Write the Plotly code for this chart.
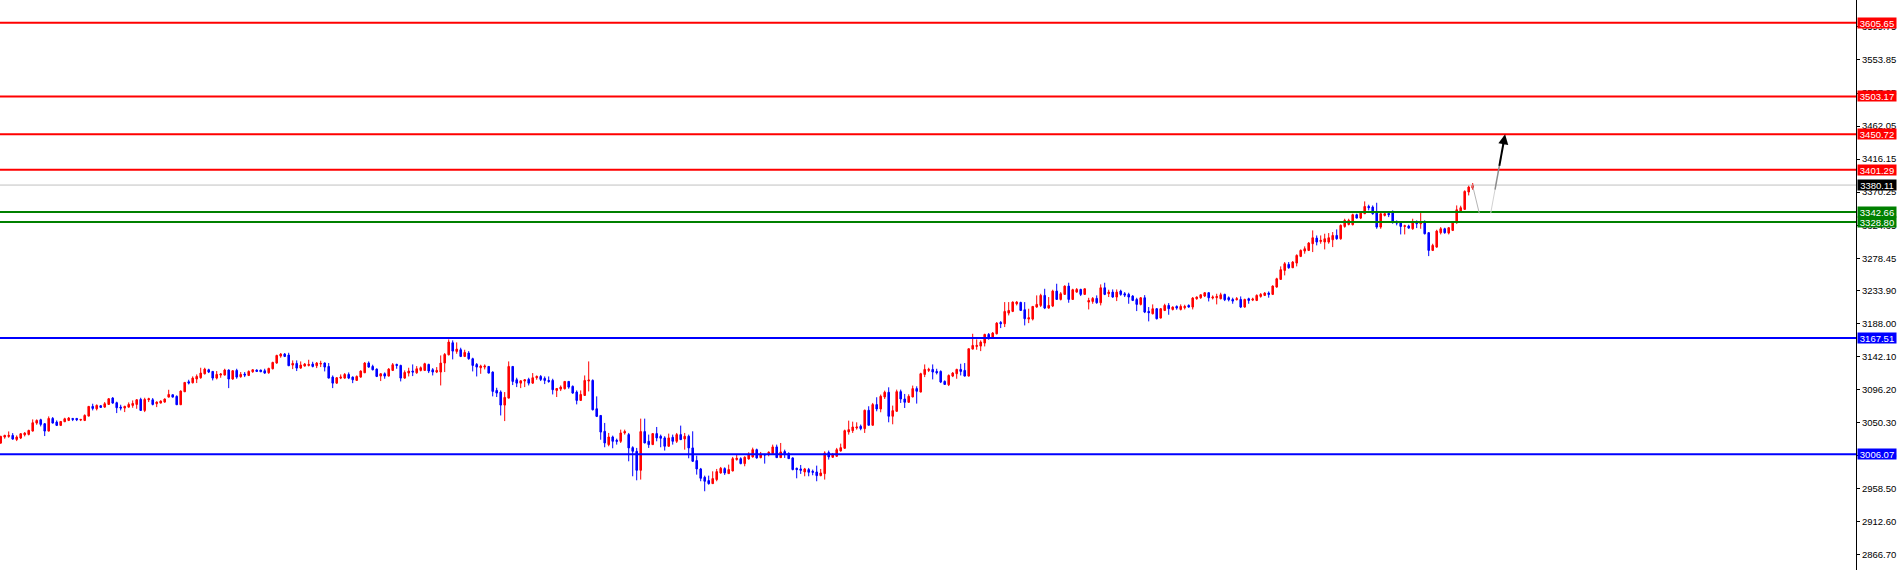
import plotly.graph_objects as go

# ---------------- data ----------------
opens = [
    3021.6, 3030.0, 3030.9, 3032.3, 3026.7, 3028.6, 3033.2, 3033.7, 3038.3, 3049.4,
    3054.0, 3048.5, 3038.3, 3055.9, 3050.8, 3046.2, 3051.3, 3053.1, 3055.9, 3055.9,
    3053.6, 3053.1, 3059.1, 3072.6, 3069.3, 3073.5, 3071.6, 3075.3, 3084.2, 3077.7,
    3071.6, 3070.3, 3071.6, 3074.0, 3075.3, 3082.3, 3067.0, 3081.8, 3081.8, 3076.3,
    3077.2, 3078.6, 3085.5, 3088.8, 3086.5, 3074.9, 3092.9, 3106.8, 3105.4, 3110.6,
    3112.4, 3117.9, 3123.5, 3121.2, 3111.9, 3116.1, 3116.1, 3123.1, 3110.6, 3122.6,
    3113.8, 3117.5, 3115.6, 3120.7, 3123.1, 3123.1, 3122.1, 3119.3, 3124.9, 3132.8,
    3142.5, 3145.3, 3143.9, 3130.0, 3132.3, 3125.8, 3128.6, 3129.5, 3131.4, 3129.1,
    3131.4, 3132.8, 3128.1, 3113.3, 3104.9, 3111.9, 3111.9, 3117.0, 3113.3, 3108.7,
    3113.3, 3119.3, 3132.8, 3128.1, 3124.4, 3114.7, 3117.9, 3114.7, 3122.6, 3130.9,
    3129.5, 3111.9, 3118.9, 3121.7, 3119.3, 3122.6, 3122.6, 3130.9, 3123.5, 3120.3,
    3120.3, 3132.8, 3144.3, 3161.0, 3149.0, 3151.3, 3142.0, 3146.7, 3138.8, 3130.9,
    3126.3, 3127.2, 3128.1, 3120.3, 3094.8, 3092.5, 3074.4, 3084.1, 3128.1, 3109.6,
    3104.9, 3107.8, 3110.1, 3104.9, 3112.4, 3114.2, 3111.5, 3108.7, 3108.7, 3094.8,
    3096.6, 3097.1, 3107.3, 3100.4, 3092.5, 3080.9, 3087.8, 3107.8, 3108.7, 3069.3,
    3060.0, 3038.0, 3019.5, 3030.1, 3025.5, 3024.1, 3035.7, 3033.4, 3015.3, 3010.2,
    2983.8, 3037.6, 3024.1, 3019.5, 3034.8, 3031.1, 3028.8, 3017.2, 3029.7, 3024.1,
    3033.4, 3027.4, 3031.1, 3014.9, 2997.3, 2985.7, 2974.1, 2969.5, 2965.3, 2970.9,
    2980.1, 2986.2, 2979.2, 2982.9, 2998.7, 3000.0, 2993.1, 2999.6, 3002.4, 3012.5,
    3001.4, 3006.1, 3007.0, 3007.0, 3016.3, 3001.4, 3009.8, 3007.0, 3001.0, 2986.6,
    2985.7, 2981.5, 2984.8, 2982.4, 2981.5, 2976.4, 2979.2, 3008.4, 3001.9, 3003.3,
    3010.7, 3014.4, 3037.1, 3038.9, 3042.6, 3045.0, 3041.7, 3067.2, 3046.4, 3075.1,
    3069.0, 3085.7, 3092.2, 3058.9, 3065.8, 3093.1, 3082.9, 3078.3, 3085.7, 3097.3,
    3092.5, 3117.0, 3122.6, 3124.0, 3121.2, 3121.2, 3107.3, 3102.7, 3114.7, 3118.0,
    3124.0, 3122.6, 3114.7, 3152.2, 3155.9, 3156.4, 3160.6, 3172.6, 3168.0, 3173.5,
    3189.3, 3187.4, 3202.2, 3204.6, 3215.2, 3217.0, 3206.9, 3193.9, 3193.9, 3210.6,
    3212.9, 3226.8, 3209.2, 3212.0, 3232.8, 3221.2, 3228.2, 3239.7, 3221.2, 3231.4,
    3235.1, 3228.2, 3217.5, 3218.4, 3222.6, 3216.6, 3237.4, 3229.1, 3231.4, 3224.5,
    3232.8, 3229.1, 3228.2, 3225.8, 3221.2, 3214.3, 3223.5, 3204.6, 3201.3, 3208.3,
    3195.3, 3205.9, 3212.9, 3207.3, 3211.5, 3207.3, 3209.7, 3212.9, 3210.6, 3222.1,
    3223.5, 3225.9, 3230.5, 3223.1, 3223.6, 3222.2, 3228.2, 3223.6, 3221.2, 3220.8,
    3221.2, 3210.6, 3222.2, 3220.3, 3219.8, 3225.4, 3226.8, 3230.0, 3228.2, 3238.4,
    3249.0, 3261.5, 3269.9, 3265.2, 3271.7, 3281.0, 3288.4, 3289.3, 3298.6, 3306.4,
    3301.8, 3300.9, 3300.9, 3304.1, 3310.1, 3305.5, 3322.6, 3325.4, 3325.0, 3338.9,
    3334.2, 3340.3, 3350.4, 3349.5, 3341.6, 3321.7, 3337.9, 3340.7, 3342.6, 3328.7,
    3327.3, 3322.6, 3323.1, 3319.4, 3329.1, 3326.4, 3328.7, 3313.9, 3289.3, 3293.9,
    3313.9, 3319.4, 3313.4, 3317.1, 3327.7, 3343.9, 3346.3, 3370.4, 3375.9,
]
highs = [
    3031.8, 3033.2, 3037.8, 3035.5, 3032.3, 3035.5, 3036.9, 3040.2, 3054.5, 3054.5,
    3055.4, 3049.4, 3058.7, 3057.8, 3053.1, 3052.0, 3056.8, 3057.8, 3056.2, 3056.2,
    3054.8, 3061.5, 3073.0, 3076.3, 3075.3, 3074.4, 3078.6, 3084.2, 3085.5, 3079.1,
    3074.9, 3073.5, 3078.1, 3080.9, 3082.8, 3084.6, 3084.6, 3084.6, 3084.2, 3079.5,
    3080.9, 3083.7, 3095.7, 3089.0, 3087.9, 3094.8, 3106.2, 3109.6, 3114.3, 3117.0,
    3126.3, 3126.3, 3124.9, 3121.7, 3121.7, 3118.9, 3124.9, 3124.0, 3123.1, 3124.9,
    3120.3, 3120.3, 3122.6, 3124.0, 3124.0, 3123.5, 3124.9, 3126.3, 3134.6, 3144.3,
    3146.7, 3146.7, 3147.1, 3136.5, 3136.5, 3135.1, 3132.8, 3137.4, 3134.6, 3134.2,
    3136.0, 3133.7, 3132.8, 3115.6, 3113.3, 3117.0, 3118.9, 3119.8, 3114.2, 3115.6,
    3122.6, 3134.2, 3135.1, 3130.5, 3125.4, 3118.9, 3119.8, 3125.8, 3132.8, 3131.9,
    3130.5, 3122.6, 3126.3, 3130.9, 3128.6, 3128.1, 3133.2, 3131.9, 3125.8, 3127.2,
    3143.4, 3146.7, 3165.7, 3164.3, 3161.5, 3154.1, 3151.3, 3149.4, 3140.2, 3132.8,
    3130.5, 3130.9, 3128.6, 3121.2, 3098.5, 3094.8, 3092.5, 3135.1, 3128.6, 3112.4,
    3108.7, 3110.0, 3112.4, 3118.9, 3115.6, 3116.1, 3114.2, 3114.2, 3111.0, 3097.8,
    3101.7, 3107.6, 3107.6, 3101.7, 3094.8, 3094.8, 3115.6, 3135.1, 3110.1, 3086.5,
    3060.3, 3049.6, 3035.7, 3032.0, 3027.8, 3040.3, 3040.3, 3035.7, 3017.2, 3014.9,
    3055.6, 3055.6, 3033.4, 3035.2, 3044.0, 3033.4, 3031.1, 3034.8, 3033.4, 3035.7,
    3045.9, 3035.7, 3033.4, 3038.0, 3004.2, 2987.1, 2976.4, 2976.4, 2982.4, 2985.7,
    2988.5, 2988.0, 2991.7, 3002.4, 3005.6, 3001.9, 3003.3, 3008.8, 3015.3, 3013.9,
    3009.3, 3006.3, 3010.2, 3019.5, 3019.5, 3021.8, 3012.5, 3008.8, 3001.9, 2987.5,
    2991.2, 2987.1, 2987.1, 2984.8, 2990.3, 2985.7, 3010.2, 3011.2, 3007.9, 3014.9,
    3020.9, 3040.3, 3052.8, 3051.4, 3050.5, 3047.3, 3068.1, 3072.8, 3077.4, 3085.3,
    3089.0, 3094.5, 3099.1, 3073.7, 3095.9, 3095.9, 3089.9, 3089.4, 3101.5, 3100.5,
    3119.3, 3130.9, 3126.3, 3130.9, 3124.9, 3122.6, 3108.7, 3117.0, 3120.3, 3124.9,
    3131.8, 3132.8, 3153.1, 3173.5, 3165.7, 3164.3, 3173.5, 3174.5, 3175.9, 3189.7,
    3191.1, 3217.5, 3217.5, 3218.4, 3218.9, 3218.0, 3217.5, 3208.3, 3212.0, 3226.8,
    3229.1, 3236.0, 3224.5, 3234.7, 3243.0, 3231.4, 3240.7, 3244.4, 3236.0, 3237.0,
    3236.0, 3236.4, 3223.5, 3224.5, 3226.8, 3242.1, 3244.4, 3234.7, 3235.1, 3235.1,
    3234.7, 3231.4, 3230.5, 3227.2, 3223.5, 3224.5, 3227.2, 3210.6, 3214.3, 3209.2,
    3209.2, 3215.2, 3216.1, 3211.5, 3212.9, 3214.3, 3213.8, 3214.3, 3224.5, 3225.4,
    3228.2, 3231.4, 3231.4, 3226.8, 3229.1, 3230.5, 3229.1, 3225.4, 3223.6, 3224.5,
    3225.4, 3222.2, 3223.6, 3223.6, 3228.2, 3230.0, 3231.4, 3232.3, 3240.7, 3251.3,
    3267.1, 3273.1, 3273.1, 3274.5, 3283.8, 3290.7, 3294.9, 3300.9, 3317.1, 3310.1,
    3310.1, 3312.5, 3313.4, 3314.8, 3318.5, 3325.4, 3333.3, 3333.3, 3340.3, 3340.3,
    3342.6, 3357.4, 3352.8, 3351.8, 3355.5, 3341.6, 3342.6, 3342.6, 3344.9, 3331.0,
    3328.7, 3325.0, 3325.0, 3333.3, 3331.0, 3341.2, 3331.0, 3314.8, 3298.6, 3318.0,
    3321.7, 3320.8, 3321.7, 3330.1, 3351.8, 3351.4, 3372.7, 3379.6, 3382.9,
]
lows = [
    3020.7, 3027.7, 3029.0, 3026.3, 3024.4, 3027.2, 3030.9, 3032.3, 3037.8, 3047.1,
    3044.8, 3031.4, 3037.8, 3049.0, 3045.3, 3045.3, 3050.8, 3052.2, 3052.2, 3052.2,
    3052.2, 3052.2, 3058.8, 3067.0, 3067.0, 3070.7, 3070.7, 3074.9, 3076.3, 3063.3,
    3067.0, 3064.7, 3070.7, 3070.7, 3069.3, 3066.5, 3064.7, 3078.6, 3074.0, 3071.6,
    3076.8, 3077.7, 3085.0, 3085.0, 3074.5, 3074.5, 3092.6, 3103.1, 3104.5, 3105.0,
    3111.0, 3117.0, 3118.9, 3108.7, 3110.1, 3112.4, 3115.6, 3098.0, 3109.6, 3111.0,
    3112.4, 3113.3, 3114.7, 3119.3, 3120.3, 3120.3, 3117.9, 3117.9, 3124.0, 3131.9,
    3140.2, 3141.1, 3128.6, 3124.4, 3121.7, 3124.9, 3128.1, 3128.1, 3126.8, 3125.8,
    3127.2, 3121.2, 3111.5, 3098.0, 3104.0, 3110.5, 3111.0, 3110.5, 3104.9, 3108.2,
    3112.4, 3118.9, 3126.3, 3122.6, 3113.3, 3107.8, 3111.0, 3114.2, 3121.7, 3124.9,
    3107.3, 3111.0, 3114.2, 3114.7, 3117.9, 3121.2, 3121.7, 3118.9, 3115.6, 3118.9,
    3101.7, 3120.3, 3143.4, 3137.9, 3145.7, 3141.1, 3141.1, 3137.4, 3121.2, 3114.2,
    3117.9, 3124.0, 3118.4, 3086.5, 3085.6, 3060.0, 3052.2, 3083.7, 3102.2, 3099.4,
    3098.0, 3099.4, 3101.7, 3104.0, 3109.6, 3107.8, 3103.6, 3105.4, 3089.2, 3085.6,
    3093.9, 3096.2, 3097.1, 3090.2, 3075.4, 3080.4, 3087.4, 3093.4, 3067.0, 3057.8,
    3026.3, 3015.8, 3017.2, 3014.4, 3019.5, 3021.8, 3033.4, 2996.3, 2975.5, 2969.9,
    2970.9, 3021.4, 3014.9, 3019.0, 3024.1, 3015.8, 3011.2, 3016.7, 3019.5, 3021.8,
    3026.0, 3012.5, 3000.5, 2995.4, 2977.8, 2968.6, 2954.7, 2963.9, 2965.0, 2968.6,
    2979.2, 2977.4, 2978.8, 2982.4, 2997.3, 2992.2, 2989.4, 2998.7, 3001.4, 3000.0,
    3000.5, 2993.1, 3003.3, 3006.1, 3001.0, 3001.0, 3001.0, 2999.6, 2983.8, 2972.7,
    2978.8, 2975.5, 2975.5, 2976.9, 2968.6, 2975.5, 2970.9, 2998.7, 3001.0, 3002.4,
    3009.8, 3013.5, 3033.4, 3035.7, 3040.3, 3039.4, 3035.7, 3046.0, 3045.9, 3065.8,
    3064.4, 3082.9, 3050.5, 3047.7, 3064.9, 3077.4, 3070.4, 3077.4, 3085.3, 3076.5,
    3092.2, 3113.3, 3120.3, 3110.1, 3117.0, 3105.0, 3102.7, 3100.8, 3113.3, 3111.0,
    3115.6, 3114.2, 3114.2, 3151.8, 3151.3, 3149.4, 3155.9, 3165.2, 3167.0, 3172.6,
    3181.4, 3182.8, 3199.0, 3203.6, 3212.9, 3205.5, 3185.1, 3188.3, 3192.0, 3209.7,
    3210.6, 3207.8, 3208.3, 3210.6, 3220.8, 3219.8, 3227.7, 3216.6, 3220.8, 3230.5,
    3225.9, 3227.7, 3207.3, 3215.2, 3215.2, 3212.9, 3227.2, 3224.5, 3223.5, 3218.9,
    3226.3, 3224.5, 3215.2, 3218.9, 3205.0, 3212.9, 3202.2, 3190.7, 3200.4, 3193.4,
    3194.9, 3205.0, 3199.9, 3205.9, 3206.9, 3205.9, 3207.3, 3209.7, 3207.3, 3220.8,
    3222.1, 3224.5, 3218.4, 3221.2, 3214.3, 3221.2, 3218.9, 3218.5, 3215.2, 3219.8,
    3209.2, 3209.7, 3215.2, 3218.9, 3218.9, 3223.6, 3225.9, 3223.6, 3227.3, 3237.5,
    3248.9, 3254.6, 3263.8, 3264.8, 3267.1, 3280.0, 3284.7, 3288.4, 3287.0, 3296.3,
    3298.6, 3290.7, 3298.6, 3293.9, 3304.1, 3304.1, 3320.8, 3324.1, 3324.1, 3333.8,
    3332.8, 3339.8, 3344.9, 3338.9, 3319.4, 3319.4, 3336.5, 3335.6, 3326.4, 3324.1,
    3311.5, 3311.5, 3319.4, 3318.0, 3320.3, 3319.4, 3311.5, 3281.4, 3288.4, 3293.0,
    3311.5, 3312.5, 3311.5, 3316.2, 3326.4, 3342.6, 3345.9, 3365.7, 3373.6,
]
closes = [
    3030.9, 3032.3, 3032.3, 3027.2, 3030.0, 3034.6, 3035.5, 3039.2, 3049.9, 3053.1,
    3047.6, 3038.3, 3055.9, 3049.4, 3046.2, 3051.7, 3055.4, 3056.4, 3054.5, 3054.0,
    3054.5, 3060.1, 3072.6, 3069.8, 3074.0, 3071.2, 3076.3, 3083.2, 3077.2, 3070.7,
    3070.3, 3072.6, 3075.3, 3076.7, 3081.8, 3067.0, 3082.3, 3083.2, 3075.3, 3078.6,
    3080.0, 3082.8, 3089.2, 3085.5, 3074.9, 3093.9, 3105.9, 3105.0, 3111.9, 3114.3,
    3118.9, 3124.4, 3120.3, 3111.9, 3117.0, 3117.5, 3123.1, 3110.6, 3122.1, 3113.3,
    3117.0, 3116.1, 3121.2, 3123.5, 3121.2, 3120.7, 3118.9, 3125.4, 3133.7, 3143.4,
    3145.3, 3142.0, 3129.1, 3132.3, 3125.8, 3130.0, 3131.4, 3130.9, 3128.1, 3132.8,
    3132.3, 3127.2, 3111.9, 3104.9, 3112.4, 3113.3, 3117.0, 3111.9, 3109.6, 3114.2,
    3121.7, 3132.8, 3127.2, 3123.5, 3114.2, 3117.9, 3114.7, 3124.4, 3130.5, 3129.5,
    3111.9, 3119.8, 3121.7, 3120.3, 3124.9, 3126.3, 3131.9, 3121.7, 3120.3, 3122.6,
    3132.8, 3144.8, 3162.0, 3149.4, 3152.2, 3142.0, 3147.6, 3138.8, 3129.5, 3127.2,
    3128.6, 3128.6, 3118.9, 3093.4, 3091.1, 3074.4, 3085.1, 3128.1, 3107.3, 3104.9,
    3108.2, 3109.6, 3104.9, 3112.4, 3114.2, 3110.1, 3108.7, 3107.3, 3095.7, 3097.5,
    3099.4, 3107.3, 3099.4, 3091.1, 3080.9, 3089.2, 3108.7, 3109.2, 3067.9, 3058.7,
    3036.9, 3021.8, 3030.1, 3024.1, 3024.1, 3035.7, 3037.6, 3014.9, 3010.2, 2983.8,
    3037.6, 3021.8, 3019.5, 3034.8, 3028.8, 3028.3, 3017.2, 3028.8, 3024.1, 3033.4,
    3026.4, 3031.1, 3014.9, 2996.3, 2985.7, 2972.7, 2968.6, 2965.3, 2972.3, 2982.0,
    2986.6, 2980.1, 2984.8, 3000.0, 3000.5, 2993.1, 3001.9, 3005.6, 3012.5, 3001.0,
    3005.6, 3005.1, 3008.8, 3016.3, 3001.4, 3009.3, 3007.0, 3000.0, 2984.8, 2984.8,
    2983.8, 2985.7, 2981.1, 2981.1, 2976.4, 2980.1, 3007.9, 3002.4, 3005.6, 3012.5,
    3015.3, 3038.9, 3040.3, 3044.0, 3044.0, 3041.7, 3067.2, 3046.4, 3075.1, 3069.0,
    3086.6, 3092.2, 3058.9, 3066.7, 3093.1, 3082.9, 3078.3, 3086.6, 3097.3, 3093.6,
    3118.0, 3124.0, 3124.0, 3120.3, 3119.3, 3106.4, 3103.1, 3115.6, 3118.9, 3124.0,
    3121.2, 3114.7, 3152.7, 3157.3, 3157.3, 3161.9, 3172.6, 3168.0, 3174.5, 3188.3,
    3187.4, 3204.6, 3205.9, 3217.5, 3217.5, 3205.9, 3194.4, 3195.8, 3211.5, 3214.3,
    3226.8, 3209.2, 3212.9, 3232.8, 3221.2, 3229.1, 3239.7, 3221.2, 3234.7, 3235.1,
    3228.2, 3236.0, 3219.8, 3222.6, 3216.6, 3237.4, 3228.2, 3231.4, 3224.5, 3231.4,
    3228.2, 3227.2, 3224.5, 3219.8, 3214.3, 3223.5, 3203.6, 3202.7, 3208.3, 3194.4,
    3208.3, 3212.9, 3208.3, 3210.6, 3209.2, 3211.5, 3211.5, 3210.6, 3223.1, 3224.5,
    3227.7, 3230.5, 3223.5, 3224.5, 3225.4, 3227.7, 3220.8, 3220.8, 3218.9, 3222.2,
    3210.6, 3221.2, 3219.8, 3221.7, 3226.8, 3228.2, 3230.0, 3228.2, 3239.8, 3249.9,
    3262.5, 3270.8, 3265.2, 3273.1, 3282.4, 3289.3, 3291.6, 3299.5, 3306.9, 3300.9,
    3303.2, 3305.5, 3306.9, 3310.1, 3305.5, 3324.1, 3331.0, 3331.0, 3338.9, 3334.2,
    3341.2, 3350.4, 3348.6, 3340.3, 3321.7, 3340.3, 3340.3, 3338.9, 3328.7, 3327.3,
    3322.6, 3323.6, 3320.3, 3328.7, 3326.4, 3328.7, 3312.5, 3289.3, 3296.3, 3316.2,
    3319.4, 3313.9, 3320.8, 3328.7, 3345.8, 3348.6, 3371.3, 3377.3, 3380.1,
]

resistance_levels = [3605.65, 3503.17, 3450.72, 3401.29]
support_levels = [3342.66, 3328.80]
range_levels = [3167.51, 3006.07]
last_price = 3380.11

tick_values = [3599.75, 3553.85, 3507.95, 3462.05, 3416.15, 3370.25, 3324.35,
               3278.45, 3233.90, 3188.00, 3142.10, 3096.20, 3050.30, 3004.40,
               2958.50, 2912.60, 2866.70]
tick_labels = ["%.2f" % v for v in tick_values]

# projection drawn after the last candle (bar index, price)
pullback_x = [368, 369.65]
pullback_y = [3378.8, 3340.9]
arrow_x = [372.5, 376.1]
arrow_y = [3340.9, 3450.72]

# ---------------- figure ----------------
n = min(len(opens), len(highs), len(lows), len(closes))
bars = list(range(n))

RED = "#ff0000"
BLUE = "#0000ff"
GREEN = "#008000"
GRAY = "#c0c0c0"
FONT = "Liberation Sans"

fig = go.Figure()
fig.add_trace(go.Candlestick(
    x=bars, open=opens[:n], high=highs[:n], low=lows[:n], close=closes[:n],
    increasing=dict(line=dict(color=RED, width=1), fillcolor=RED),
    decreasing=dict(line=dict(color=BLUE, width=1), fillcolor=BLUE),
    whiskerwidth=0, hoverinfo="skip", showlegend=False,
))

shapes = []
annotations = []


def level(price, color, width, label_bg):
    shapes.append(dict(type="line", xref="paper", x0=0, x1=1, yref="y",
                       y0=price, y1=price, layer="above",
                       line=dict(color=color, width=width)))
    annotations.append(dict(xref="paper", x=1, xanchor="left", xshift=1,
                            yref="y", y=price, yanchor="middle",
                            text="%.2f" % price, showarrow=False,
                            bgcolor=label_bg, borderpad=0, width=38, height=10,
                            align="center",
                            font=dict(family=FONT, size=9.5, color="#ffffff")))


for p in resistance_levels:
    level(p, RED, 2, RED)
level(last_price, GRAY, 1, "#000000")
for p in support_levels:
    level(p, GREEN, 2, GREEN)
for p in range_levels:
    level(p, BLUE, 2, BLUE)

# thin pull-back line from last candle
shapes.append(dict(type="line", xref="x", yref="y",
                   x0=pullback_x[0], y0=pullback_y[0],
                   x1=pullback_x[1], y1=pullback_y[1], layer="above",
                   line=dict(color="#b4b4b4", width=1)))

# projected arrow with fading-in colour
segs = [(0.0, 0.3, "#d2d2d2", 1), (0.3, 0.6, "#8c8c8c", 1.5), (0.6, 0.93, "#000000", 2)]
dx = arrow_x[1] - arrow_x[0]
dy = arrow_y[1] - arrow_y[0]
for f0, f1, c, w in segs:
    shapes.append(dict(type="line", xref="x", yref="y",
                       x0=arrow_x[0] + f0 * dx, y0=arrow_y[0] + f0 * dy,
                       x1=arrow_x[0] + f1 * dx, y1=arrow_y[0] + f1 * dy,
                       layer="above", line=dict(color=c, width=w)))
annotations.append(dict(x=arrow_x[1], y=arrow_y[1], xref="x", yref="y",
                        ax=arrow_x[0] + 0.85 * dx, ay=arrow_y[0] + 0.85 * dy,
                        axref="x", ayref="y", text="", showarrow=True,
                        arrowhead=2, arrowsize=1, arrowwidth=2,
                        arrowcolor="#000000"))

PLOT_W = 1856
fig.update_layout(
    width=1900, height=570,
    margin=dict(l=0, r=1900 - PLOT_W, t=0, b=0, pad=0),
    paper_bgcolor="#ffffff", plot_bgcolor="#ffffff",
    showlegend=False, boxgap=0.45,
    shapes=shapes, annotations=annotations,
    xaxis=dict(visible=False, rangeslider=dict(visible=False),
               range=[-0.7 / 4, -0.7 / 4 + PLOT_W / 4], fixedrange=True),
    yaxis=dict(side="right", range=[2845.3, 3637.2], fixedrange=True,
               showgrid=False, zeroline=False,
               showline=True, linecolor="#000000", linewidth=1,
               ticks="outside", ticklen=3, tickcolor="#000000", tickwidth=1,
               tickvals=tick_values, ticktext=tick_labels,
               tickfont=dict(family=FONT, size=9.5, color="#000000")),
    font=dict(family=FONT),
)

fig.write_html(
    "out.html",
    config={"displayModeBar": False},
    post_script="document.body.style.margin='0';document.body.style.overflow='hidden';",
)
